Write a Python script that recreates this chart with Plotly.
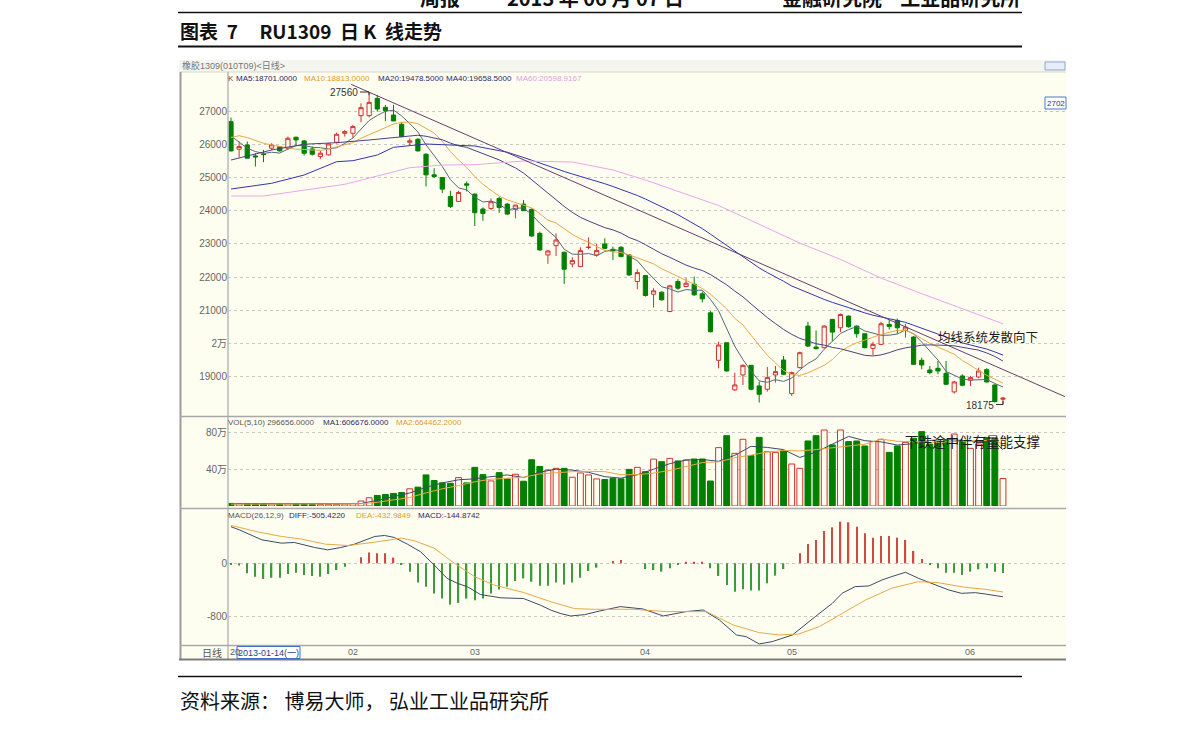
import plotly.graph_objects as go

W, H = 1191, 731

# ---------------- data ----------------
contract_label = "橡胶1309(010T09)<日线>"
title_text = ("图表&nbsp;&nbsp;7&nbsp;&nbsp;&nbsp;&nbsp;&nbsp;RU1309&nbsp;&nbsp;日&nbsp;K"
              "&nbsp;&nbsp;线走势")
source_text = "资料来源：&nbsp;博易大师，&nbsp;弘业工业品研究所"
start_label = "2013-01-14(一)"
month_labels = ["02", "03", "04", "05", "06"]
month_pos = [15, 30, 51, 69, 91]

price_ticks = [19000, 20000, 21000, 22000, 23000, 24000, 25000, 26000, 27000]
price_tick_text = ["19000", "2万", "21000", "22000", "23000", "24000", "25000", "26000", "27000"]
vol_ticks = [400000, 800000]
vol_tick_text = ["40万", "80万"]
macd_ticks = [-800, 0]
macd_tick_text = ["-800", "0"]

opens = [26680, 25850, 25980, 25650, 25710, 25880, 25930, 25880, 26210, 26100,
         25860, 25630, 25680, 26060, 26330, 26330, 26860, 26860, 27380, 27110,
         26880, 26600, 26060, 26150, 25700, 25080, 25000, 24430, 24280, 24810,
         24500, 24050, 24070, 24370, 24200, 24040, 24200, 24040, 23320, 22670,
         22950, 22750, 22400, 22320, 22900, 22670, 23000, 22840, 22900, 22670,
         21870, 22050, 21490, 21550, 20970, 21870, 21720, 21790, 21500, 20930,
         19500, 20030, 18610, 19060, 19350, 18730, 18630, 19060, 19510, 18500,
         19280, 20530, 19900, 19880, 20730, 20480, 20830, 20530, 20300, 19860,
         19980, 20580, 20700, 20400, 20200, 19500, 19210, 19260, 19110, 18550,
         19030, 18900, 19000, 19220, 18760, 18330]
highs = [26800, 26080, 26080, 25730, 25830, 26030, 25950, 26230, 26230, 26130,
         25930, 25800, 26030, 26350, 26430, 26580, 27230, 27560, 27480, 27180,
         27180, 26660, 26180, 26180, 25730, 25280, 25000, 24600, 24600, 24880,
         24520, 24100, 24370, 24420, 24240, 24170, 24320, 24070, 23370, 22820,
         23320, 22770, 22600, 22900, 23200, 23000, 23170, 22920, 22940, 22700,
         22240, 22070, 21670, 21570, 21770, 21940, 21970, 22020, 21570, 20980,
         20060, 20030, 19130, 19380, 19350, 18860, 19300, 19330, 19630, 19160,
         19760, 20660, 20400, 20560, 20750, 20910, 20850, 20550, 20300, 20060,
         20660, 20730, 20760, 20600, 20230, 19580, 19330, 19480, 19480, 18880,
         19080, 19030, 19280, 19260, 18780, 18400]
lows = [25780, 25600, 25580, 25330, 25460, 25830, 25780, 25830, 25980, 25660,
        25660, 25560, 25660, 26020, 26230, 26200, 26660, 26810, 26980, 26700,
        26700, 26210, 25960, 25780, 24730, 24980, 24530, 24080, 24260, 24580,
        23540, 23700, 24020, 23940, 23870, 23770, 24000, 23220, 22800, 22400,
        22640, 21800, 22300, 22300, 22840, 22620, 22840, 22520, 22600, 22040,
        21640, 21420, 21090, 21300, 20950, 21620, 21700, 21440, 21240, 20340,
        19260, 19160, 18580, 18760, 18600, 18230, 18560, 18830, 19060, 18430,
        19260, 19900, 19830, 19860, 20080, 20350, 20480, 20180, 19860, 19660,
        19960, 20430, 20300, 20180, 19360, 19230, 19080, 19080, 18760, 18500,
        18720, 18730, 18960, 18830, 18230, 18175]
closes = [25800, 25930, 25580, 25620, 25690, 25980, 25800, 26180, 26130, 25730,
          25700, 25730, 26010, 26300, 26380, 26530, 27100, 27260, 27060, 27010,
          26700, 26230, 26100, 25800, 25080, 25030, 24650, 24130, 24550, 24770,
          23940, 23920, 24270, 24100, 23900, 24170, 24000, 23240, 22820, 22790,
          23120, 22240, 22500, 22800, 22900, 22800, 22870, 22790, 22620, 22070,
          22140, 21450, 21590, 21320, 21740, 21670, 21820, 21470, 21350, 20360,
          19960, 19180, 18760, 19350, 18630, 18480, 18980, 19160, 19080, 19130,
          19730, 19930, 19850, 20530, 20350, 20880, 20510, 20300, 19880, 19980,
          20600, 20520, 20480, 20500, 19380, 19360, 19130, 19180, 18780, 18850,
          18750, 18980, 19180, 18850, 18260, 18360]
volumes = [28000, 25000, 25000, 25000, 25000, 22000, 22000, 22000, 25000, 22000,
           18000, 18000, 18000, 18000, 22000, 25000, 54000, 89000, 114000, 125000,
           136000, 146000, 186000, 204000, 336000, 275000, 250000, 246000, 307000, 250000,
           418000, 339000, 271000, 361000, 293000, 343000, 268000, 500000, 428000, 389000,
           407000, 407000, 311000, 357000, 336000, 293000, 286000, 296000, 293000, 396000,
           418000, 371000, 507000, 479000, 515000, 487000, 497000, 508000, 508000, 270000,
           631000, 760000, 569000, 721000, 544000, 742000, 587000, 580000, 598000, 454000,
           407000, 703000, 760000, 822000, 660000, 822000, 696000, 703000, 649000, 696000,
           721000, 580000, 649000, 688000, 732000, 804000, 670000, 685000, 706000, 778000,
           706000, 623000, 670000, 742000, 732000, 297000]

ma5 = [26248, 26050, 25880, 25780, 25724, 25760, 25734, 25854, 25956, 25964,
       25908, 25894, 25860, 25894, 26024, 26190, 26464, 26714, 26866, 26992,
       27026, 26852, 26620, 26368, 25982, 25648, 25332, 24938, 24688, 24626,
       24408, 24262, 24290, 24200, 24026, 24072, 24088, 23882, 23626, 23404,
       23194, 22842, 22694, 22690, 22712, 22648, 22774, 22832, 22796, 22630,
       22498, 22214, 21974, 21714, 21648, 21554, 21628, 21604, 21610, 21334,
       20992, 20464, 19922, 19522, 19176, 18880, 18840, 18920, 18866, 18966,
       19216, 19406, 19544, 19834, 20078, 20308, 20424, 20514, 20384, 20310,
       20254, 20256, 20292, 20416, 20296, 20048, 19770, 19510, 19166, 19060,
       18938, 18908, 18908, 18922, 18804, 18701]
ma10 = [26197, 26257, 26200, 26110, 26030, 25977, 25930, 25880, 25850, 25844,
        25834, 25814, 25857, 25925, 25994, 26049, 26179, 26287, 26380, 26508,
        26608, 26658, 26667, 26617, 26487, 26337, 26092, 25779, 25528, 25304,
        25028, 24797, 24614, 24444, 24326, 24240, 24175, 24086, 23913, 23715,
        23633, 23465, 23288, 23158, 23058, 22921, 22808, 22763, 22743, 22671,
        22573, 22494, 22403, 22255, 22139, 22026, 21921, 21789, 21662, 21491,
        21273, 21046, 20763, 20566, 20255, 19936, 19652, 19421, 19194, 19071,
        19048, 19123, 19232, 19350, 19522, 19762, 19915, 20029, 20109, 20194,
        20281, 20340, 20403, 20400, 20303, 20151, 20013, 19901, 19791, 19682,
        19497, 19343, 19213, 19048, 18936, 18813]
ma20_x = [0, 2, 5, 9, 13, 17] + list(range(19, 96))
ma20 = [25526, 25650, 25827, 26000, 26047, 26128,
        26176, 26221, 26236, 26262, 26271, 26240, 26193, 26135, 26033, 25954,
        25906, 25818, 25727, 25640, 25530, 25406, 25288, 25133, 24932, 24720,
        24509, 24330, 24131, 23951, 23801, 23692, 23580, 23491, 23424, 23328,
        23193, 23103, 22979, 22845, 22706, 22598, 22473, 22364, 22276, 22202,
        22081, 21923, 21770, 21583, 21410, 21197, 20981, 20786, 20605, 20428,
        20281, 20160, 20084, 19997, 19958, 19888, 19849, 19783, 19725, 19651,
        19632, 19664, 19731, 19817, 19875, 19912, 19956, 19964, 19965, 19950,
        19936, 19887, 19839, 19806, 19722, 19617, 19478]
ma40_x = [0, 5, 9, 13, 15, 18, 20, 24, 30, 34, 37] + list(range(39, 96))
ma40 = [24653, 24825, 25075, 25475, 25505, 25676, 25908, 26007, 25947, 25760, 25520,
        25343, 25276, 25183, 25106, 25036, 24966, 24887, 24813, 24729, 24641,
        24549, 24460, 24353, 24243, 24118, 24002, 23881, 23749, 23604, 23461,
        23295, 23127, 22950, 22767, 22606, 22444, 22281, 22139, 22015, 21878,
        21737, 21632, 21532, 21421, 21332, 21243, 21161, 21074, 21000, 20927,
        20857, 20794, 20751, 20700, 20643, 20555, 20469, 20375, 20285, 20189,
        20108, 20024, 19962, 19902, 19840, 19753, 19658]
ma60_x = [0, 4, 14, 18, 22, 26, 30, 36, 42, 47, 51, 60, 65, 70, 75, 80, 85, 90, 95]
ma60 = [24443, 24443, 24795, 25045, 25294, 25376, 25385, 25496, 25466, 25225, 24924,
        24158, 23585, 23027, 22537, 21972, 21506, 21050, 20599]
trend_x = [14.8, 102.8]
trend_y = [27800, 18390]

vma1_x = [0, 2, 4, 6, 8, 10, 12, 14, 16, 18, 20, 22, 24, 26, 28, 30, 32, 34, 36, 38, 40, 42,
          44, 46, 48, 50, 52, 54, 56, 58, 60, 62, 64, 66, 68, 70, 72, 74, 76, 78, 80, 82,
          84, 86, 88, 90, 92, 94, 95]
vma1 = [25, 25, 26, 24, 23, 22, 20, 19, 27, 61, 104, 141, 202, 250, 283, 294, 317, 336, 307,
        366, 398, 388, 364, 317, 301, 338, 397, 458, 497, 503, 483, 548, 645, 633, 610, 525,
        584, 670, 752, 706, 693, 659, 674, 709, 719, 709, 697, 695, 607]
vma2_x = [0, 4, 8, 12, 16, 18, 20, 22, 24, 26, 28, 30, 32, 34, 36, 38, 40, 42, 44, 46, 48,
          50, 52, 54, 56, 58, 60, 62, 64, 66, 68, 70, 72, 74, 76, 78, 80, 82, 84, 86, 88,
          90, 92, 94, 95]
vma2 = [20, 22, 23, 21, 24, 40, 62, 92, 142, 186, 221, 262, 290, 301, 310, 347, 360, 371,
        375, 371, 338, 339, 355, 385, 426, 469, 477, 522, 550, 584, 600, 596, 610, 631, 650,
        668, 723, 700, 694, 689, 693, 700, 706, 712, 664]

macd_hist = [-15, -35, -152, -203, -238, -218, -218, -162, -142, -177,
             -192, -203, -162, -101, -51, 0, 91, 162, 152, 152,
             86, -15, -127, -289, -354, -456, -532, -623, -597, -532,
             -557, -532, -456, -395, -354, -268, -228, -278, -339, -339,
             -289, -319, -289, -218, -116, -66, 0, 35, 50, 0,
             0, -86, -101, -126, -75, -25, 25, 25, 25, -75,
             -191, -327, -428, -392, -412, -412, -302, -186, -86, 0,
             151, 292, 352, 488, 543, 629, 619, 553, 453, 387,
             412, 412, 387, 352, 186, 65, -25, -75, -141, -141,
             -176, -126, -91, -75, -126, -145]
diff_x = [0, 1, 3.8, 6.2, 7.8, 10.3, 11.9, 13.5, 15.2, 17.7, 18.9, 20.1, 21.7, 23.3, 25.0,
          26.6, 27.9, 29.1, 30.7, 33.2, 36.0, 38.1, 39.4, 40.6, 41.8, 43.5, 45.4, 47.9, 50.7,
          53.2, 56.0, 58.1, 60.1, 62.2, 63.4, 65.0, 66.6, 69.1, 71.9, 74.0, 75.2, 76.8, 78.5,
          80.1, 81.3, 83.0, 84.6, 86.2, 88.3, 89.9, 91.6, 92.8, 95]
diff = [552, 506, 354, 304, 314, 238, 203, 238, 289, 405, 420, 390, 289, 177, -25,
        -228, -304, -354, -471, -521, -532, -633, -709, -759, -795, -775, -719, -654, -689,
        -795, -729, -704, -855, -1081, -1107, -1217, -1182, -1081, -805, -604, -453, -352, -342,
        -252, -201, -136, -226, -302, -402, -453, -443, -463, -505]
dea_x = [0, 3.4, 6.2, 8.7, 11.6, 14.4, 17.7, 21, 22.6, 25, 27.5, 30, 32.4, 36, 39.4, 42.3,
         44.7, 49.5, 53.6, 58.5, 61.8, 65, 67.5, 69.9, 72.4, 75.2, 78.1, 81.3, 84.6, 87,
         90.3, 92.8, 95]
dea = [572, 471, 405, 365, 289, 268, 319, 380, 339, 228, 0, -203, -329, -440, -582, -684,
       -694, -694, -729, -729, -931, -1046, -1081, -1066, -956, -755, -553, -377, -277, -292,
       -362, -392, -433]

# ---------------- styling ----------------
BG = "#FEFEF0"
RED = "#D23030"
GREEN = "#008000"
HRED = "#CC4A4A"
HGREEN = "#3E9A3E"
C_MA5 = "#56687A"
C_MA10 = "#E8A846"
C_MA20 = "#4B3F86"
C_MA40 = "#3434B0"
C_MA60 = "#E8A6E8"
C_TREND = "#6A3D6A"
C_DIFF = "#3C4A6A"
C_DEA = "#E8A846"
GRID = "#C9C9C2"
AXC = "#666666"


def px(x):
    return x / W


def py(y):
    return 1 - y / H


idx = list(range(len(closes)))
up = [c >= o for o, c in zip(opens, closes)]

fig = go.Figure()

fig.add_trace(go.Candlestick(
    x=idx, open=opens, high=highs, low=lows, close=closes,
    increasing=dict(line=dict(color=RED, width=1), fillcolor=BG),
    decreasing=dict(line=dict(color=GREEN, width=1), fillcolor=GREEN),
    whiskerwidth=0, xaxis="x", yaxis="y", hoverinfo="skip", showlegend=False))

for xs, ys, col in [(idx, ma5, C_MA5), (idx, ma10, C_MA10), (ma20_x, ma20, C_MA20),
                    (ma40_x, ma40, C_MA40), (ma60_x, ma60, C_MA60), (trend_x, trend_y, C_TREND)]:
    fig.add_trace(go.Scatter(x=xs, y=ys, mode="lines", line=dict(color=col, width=1),
                             xaxis="x", yaxis="y", hoverinfo="skip", showlegend=False))

fig.add_trace(go.Bar(
    x=idx, y=volumes, width=0.72,
    marker=dict(color=[BG if u else GREEN for u in up],
                line=dict(color=[RED if u else GREEN for u in up], width=1)),
    xaxis="x2", yaxis="y2", hoverinfo="skip", showlegend=False))
fig.add_trace(go.Scatter(x=vma1_x, y=[v * 1000 for v in vma1], mode="lines",
                         line=dict(color=C_DIFF, width=1), xaxis="x2", yaxis="y2",
                         hoverinfo="skip", showlegend=False))
fig.add_trace(go.Scatter(x=vma2_x, y=[v * 1000 for v in vma2], mode="lines",
                         line=dict(color=C_DEA, width=1), xaxis="x2", yaxis="y2",
                         hoverinfo="skip", showlegend=False))

fig.add_trace(go.Bar(
    x=idx, y=macd_hist, width=0.17,
    marker=dict(color=[HRED if v >= 0 else HGREEN for v in macd_hist], line=dict(width=0)),
    xaxis="x3", yaxis="y3", hoverinfo="skip", showlegend=False))
fig.add_trace(go.Scatter(x=diff_x, y=diff, mode="lines", line=dict(color=C_DIFF, width=1),
                         xaxis="x3", yaxis="y3", hoverinfo="skip", showlegend=False))
fig.add_trace(go.Scatter(x=dea_x, y=dea, mode="lines", line=dict(color=C_DEA, width=1),
                         xaxis="x3", yaxis="y3", hoverinfo="skip", showlegend=False))

# pixel geometry of the three panels
X_LEFT, X_RIGHT = 228, 1065
X_C0, X_STEP = 231, 8.126
xr = [(X_LEFT - X_C0) / X_STEP, (X_RIGHT - X_C0) / X_STEP]
P_PER_PX = 30.08
price_range = [27000 - (416 - 111) * P_PER_PX, 27000 + (111 - 80) * P_PER_PX]
V_PER_PX = 10811
vol_range = [0, (506 - 418) * V_PER_PX]
M_PER_PX = 15.09
macd_range = [-(646 - 563.3) * M_PER_PX, (563.3 - 509) * M_PER_PX]

tickfont = dict(family="Liberation Sans, Noto Sans CJK SC", size=10, color=AXC)
xcommon = dict(domain=[px(X_LEFT), px(X_RIGHT)], range=xr, showticklabels=False,
               showgrid=False, zeroline=False, showline=False, ticks="", fixedrange=True)
ycommon = dict(showgrid=True, gridcolor=GRID, griddash="dot", gridwidth=1, zeroline=False,
               showline=False, ticks="", tickfont=tickfont, fixedrange=True)

fig.update_layout(
    width=W, height=H, margin=dict(l=0, r=0, t=0, b=0),
    paper_bgcolor="white", plot_bgcolor="rgba(0,0,0,0)",
    showlegend=False, boxgap=0.26,
    font=dict(family="Noto Sans CJK SC"),
    xaxis=dict(**xcommon, anchor="y", rangeslider=dict(visible=False)),
    xaxis2=dict(**xcommon, anchor="y2"),
    xaxis3=dict(**xcommon, anchor="y3"),
    yaxis=dict(**ycommon, domain=[py(416), py(80)], range=price_range, anchor="x",
               tickvals=price_ticks, ticktext=price_tick_text),
    yaxis2=dict(**ycommon, domain=[py(506), py(418)], range=vol_range, anchor="x2",
                tickvals=vol_ticks, ticktext=vol_tick_text),
    yaxis3=dict(**ycommon, domain=[py(646), py(509)], range=macd_range, anchor="x3",
                tickvals=macd_ticks, ticktext=macd_tick_text),
)

shapes = []


def rect(x0, y0, x1, y1, fill=None, line=None, lw=1, layer="below"):
    shapes.append(dict(type="rect", xref="paper", yref="paper", x0=px(x0), x1=px(x1),
                       y0=py(y1), y1=py(y0), fillcolor=fill or "rgba(0,0,0,0)",
                       line=dict(color=line or "rgba(0,0,0,0)", width=lw if line else 0),
                       layer=layer))


def seg(x0, y0, x1, y1, color, width=1, layer="above"):
    shapes.append(dict(type="line", xref="paper", yref="paper", x0=px(x0), x1=px(x1),
                       y0=py(y0), y1=py(y1), line=dict(color=color, width=width), layer=layer))


rect(179, 60, 1066, 72, fill="#F5F5EF")
rect(179, 72, 1066, 660, fill=BG)
seg(178, 12.5, 1022, 12.5, "#111111", 1.5)
seg(178, 46.5, 1022, 46.5, "#111111", 2)
seg(178, 676.5, 1022, 676.5, "#111111", 1.5)
seg(180, 72, 1066, 72, "#D6D6D0", 1)
seg(180.5, 72, 180.5, 660, "#9C9C9C", 2)
seg(228, 72, 228, 660, "#B8B8B8", 1.5)
seg(180, 416.5, 1066, 416.5, "#A8A8A8", 1.5)
seg(180, 508.5, 1066, 508.5, "#A8A8A8", 1.5)
seg(180, 645.5, 1066, 645.5, "#A8A8A8", 1.5)
seg(179, 659.5, 1066, 659.5, "#7C7C7C", 2)
# high / low markers
shapes.append(dict(type="path", xref="paper", yref="paper",
                   path=f"M {px(360)} {py(92)} L {px(369)} {py(92)} L {px(369)} {py(95)}",
                   line=dict(color="#333333", width=1)))
shapes.append(dict(type="path", xref="paper", yref="paper",
                   path=f"M {px(996)} {py(404.5)} L {px(1003)} {py(404.5)} L {px(1003)} {py(401)}",
                   line=dict(color="#333333", width=1)))
rect(237, 646.5, 300, 658.5, fill="#FFFFFF", line="#3D6FC8", lw=1, layer="above")
rect(1045, 62, 1065, 70, fill="#E8EEF8", line="#8CA6D2", lw=1, layer="above")
rect(1045, 97, 1066, 109, fill="#FFFFFF", line="#4B78C8", lw=1, layer="above")
fig.update_layout(shapes=shapes)

anns = []


def text(t, x, y, size=10, color="#333333", anchor="left", family=None, weight=None):
    f = dict(size=size, color=color)
    if family:
        f["family"] = family
    if weight:
        f["weight"] = weight
    anns.append(dict(text=t, xref="paper", yref="paper", x=px(x), y=py(y), showarrow=False,
                     xanchor=anchor, yanchor="middle", font=f, borderpad=0))


# page texts (running header is cut by the top edge, as in the page scan)
text("周报", 440, -2, 20, "#111111", "center", weight="bold")
text("2013 年 06 月 07 日", 595, -2, 20, "#111111", "center", weight="bold")
text("金融研究院&nbsp;&nbsp;&nbsp;&nbsp;工业品研究所", 1021, -2, 20, "#111111", "right",
     weight="bold")
text(title_text, 179, 31, 19, "#111111", "left", weight="bold")
text(source_text, 179, 700, 20, "#111111", "left")

# chart texts
LEG = "Liberation Sans, Noto Sans CJK SC"
text(contract_label, 181, 66, 9, "#777777", family=LEG)
text("K", 227, 78, 8, "#555555", family=LEG)
text("MA5:18701.0000", 235, 78, 8, "#1E2C66", family=LEG)
text("MA10:18813.0000", 303, 78, 8, "#E09A30", family=LEG)
text("MA20:19478.5000", 377, 78, 8, "#1E2C66", family=LEG)
text("MA40:19658.5000", 445, 78, 8, "#1E2C66", family=LEG)
text("MA60:20598.9167", 515, 78, 8, "#E2A0E2", family=LEG)
text("VOL(5,10) 296656.0000", 227, 423, 8, "#555555", family=LEG)
text("MA1:606676.0000", 322, 423, 8, "#1E2C66", family=LEG)
text("MA2:664462.2000", 395, 423, 8, "#E09A30", family=LEG)
text("MACD(26,12,9)", 227, 515, 8, "#555555", family=LEG)
text("DIFF:-505.4220", 288, 515, 8, "#1E2C66", family=LEG)
text("DEA:-432.9849", 355, 515, 8, "#E09A30", family=LEG)
text("MACD:-144.8742", 417, 515, 8, "#1E2C66", family=LEG)
text("27560", 359, 92, 10, "#333333", "right", family=LEG)
text("18175", 995, 405, 10, "#333333", "right", family=LEG)
text("2702", 1046, 103, 8, "#203C80", family=LEG)
text("均线系统发散向下", 937, 336, 12.5, "#1A1A1A")
text("下跌途中伴有量能支撑", 904, 441, 13.5, "#1A1A1A")
text("日线", 223, 652, 10, "#555555", "right")
text("20", 229, 652, 9, "#555555", family=LEG)
text(start_label, 268.5, 652.5, 9, "#1F3F8F", "center", family=LEG)
for lab, pos in zip(month_labels, month_pos):
    anns.append(dict(text=lab, xref="x3", yref="paper", x=pos, y=py(652), showarrow=False,
                     xanchor="center", yanchor="middle",
                     font=dict(size=9, color="#666666", family=LEG)))

fig.update_layout(annotations=anns)

fig.write_html("out.html")
